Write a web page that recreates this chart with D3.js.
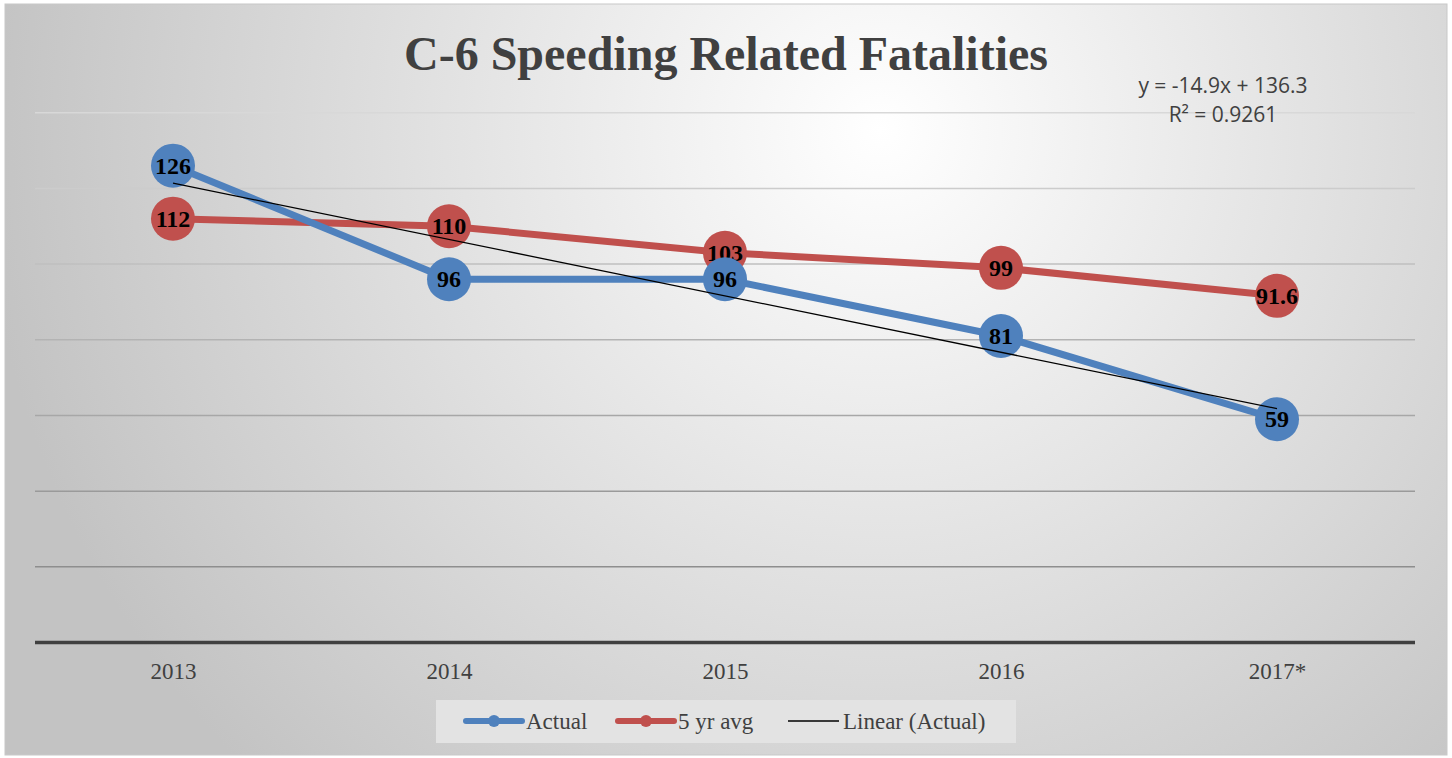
<!DOCTYPE html>
<html>
<head>
<meta charset="utf-8">
<script src="https://cdn.jsdelivr.net/npm/d3@7"></script>
<style>
  body { margin: 0; background: #ffffff; }
  svg { display: block; }
</style>
</head>
<body>
<div class="chart"></div>
<script>
// Data
const years = ["2013", "2014", "2015", "2016", "2017*"]
const actual = [126, 96, 96, 81, 59]
const fiveYrAvg = [112, 110, 103, 99, 91.6]
const gridTicks = [20, 40, 60, 80, 100, 120, 140]
const trendSlope = -14.9
const trendIntercept = 136.3
const trendLabel = ["y = -14.9x + 136.3", "R² = 0.9261"]

const blue = "#4f81bd"
const red = "#c0504d"

const width = 1452
const height = 758

const svg = d3.select('.chart')
    .append('svg')
    .attr('width', width)
    .attr('height', height)

// background gradient
const defs = svg.append('defs')
const bg = defs.append('radialGradient')
    .attr('id', 'bg')
    .attr('gradientUnits', 'userSpaceOnUse')
    .attr('cx', 880).attr('cy', 130).attr('r', 900)
bg.append('stop').attr('offset', '0%').attr('stop-color', '#ffffff')
bg.append('stop').attr('offset', '100%').attr('stop-color', '#c3c3c3')

svg.append('rect')
    .attr('x', 5).attr('y', 4)
    .attr('width', 1442).attr('height', 751)
    .attr('fill', 'url(#bg)')
    .attr('stroke', '#c8c8c8')
    .attr('stroke-width', 1)

// scales
const x = d3.scalePoint()
    .domain(years)
    .range([35, 1415])
    .padding(0.5)

const y = d3.scaleLinear()
    .domain([0, 140])
    .range([642.5, 112.7])

// gridlines get darker towards the bottom
const gridCol = d3.scaleLinear()
    .domain([20, 140])
    .range(['#8e8e8e', '#d8d8d8'])

svg.append('g')
    .selectAll('line')
    .data(gridTicks)
    .enter()
    .append('line')
    .attr('x1', 35)
    .attr('x2', 1415)
    .attr('y1', d => y(d))
    .attr('y2', d => y(d))
    .attr('stroke', d => gridCol(d))
    .attr('stroke-width', 1.5)

// x axis
const xAxis = svg.append('g')
    .attr('transform', 'translate(0,' + y(0) + ')')
    .call(d3.axisBottom(x).tickSize(0).tickPadding(20))
xAxis.select('.domain')
    .attr('d', 'M35,0H1415')
    .attr('stroke', '#404040')
    .attr('stroke-width', 3.5)
xAxis.selectAll('text')
    .attr('font-family', '"Liberation Serif", "Times New Roman", serif')
    .attr('font-size', '23px')
    .attr('fill', '#404040')

// title
svg.append('text')
    .attr('x', 726)
    .attr('y', 70)
    .attr('text-anchor', 'middle')
    .attr('font-family', '"Liberation Serif", "Times New Roman", serif')
    .attr('font-weight', 'bold')
    .attr('font-size', '48px')
    .attr('fill', '#404040')
    .text('C-6 Speeding Related Fatalities')

// trend equation
svg.append('g')
    .selectAll('text')
    .data(trendLabel)
    .enter()
    .append('text')
    .attr('x', 1223)
    .attr('y', (d, i) => 93 + i * 29)
    .attr('text-anchor', 'middle')
    .attr('font-family', '"Open Sans", "Noto Sans", sans-serif')
    .attr('font-size', '21px')
    .attr('fill', '#404040')
    .text(d => d)

const line = d3.line()
    .x((d, i) => x(years[i]))
    .y(d => y(d))

function drawSeries(vals, col) {
    svg.append('path')
        .datum(vals)
        .attr('fill', 'none')
        .attr('stroke', col)
        .attr('stroke-width', 7)
        .attr('stroke-linejoin', 'round')
        .attr('d', line)
}

function drawMarkers(vals, col) {
    const g = svg.append('g')
    g.selectAll('circle')
        .data(vals)
        .enter()
        .append('circle')
        .attr('cx', (d, i) => x(years[i]))
        .attr('cy', d => y(d))
        .attr('r', 22)
        .attr('fill', col)
    g.selectAll('text')
        .data(vals)
        .enter()
        .append('text')
        .attr('x', (d, i) => x(years[i]))
        .attr('y', d => y(d) + 8)
        .attr('text-anchor', 'middle')
        .attr('font-family', '"Liberation Serif", "Times New Roman", serif')
        .attr('font-weight', 'bold')
        .attr('font-size', '24px')
        .attr('fill', '#000000')
        .text(d => d)
}

drawSeries(fiveYrAvg, red)
drawSeries(actual, blue)
drawMarkers(fiveYrAvg, red)
drawMarkers(actual, blue)

// linear trend of actual
const trendVals = [trendIntercept + trendSlope * 1, trendIntercept + trendSlope * years.length]
svg.append('line')
    .attr('x1', x(years[0]))
    .attr('x2', x(years[years.length - 1]))
    .attr('y1', y(trendVals[0]))
    .attr('y2', y(trendVals[1]))
    .attr('stroke', '#000000')
    .attr('stroke-width', 1.3)

// legend
const leg = svg.append('g')
leg.append('rect')
    .attr('x', 436).attr('y', 700)
    .attr('width', 580).attr('height', 43)
    .attr('fill', '#e3e3e3')

const legItems = [
    { name: 'Actual', col: blue, x0: 466, x1: 522, w: 6, marker: true },
    { name: '5 yr avg', col: red, x0: 618, x1: 674, w: 6, marker: true },
    { name: 'Linear (Actual)', col: '#000000', x0: 788, x1: 839, w: 1.3, marker: false }
]
const legY = 721
legItems.forEach(function (it) {
    leg.append('line')
        .attr('x1', it.x0).attr('x2', it.x1)
        .attr('y1', legY).attr('y2', legY)
        .attr('stroke', it.col)
        .attr('stroke-width', it.w)
        .attr('stroke-linecap', it.marker ? 'round' : 'butt')
    if (it.marker) {
        leg.append('circle')
            .attr('cx', (it.x0 + it.x1) / 2)
            .attr('cy', legY)
            .attr('r', 6)
            .attr('fill', it.col)
    }
    leg.append('text')
        .attr('x', it.x1 + 4)
        .attr('y', legY + 8)
        .attr('font-family', '"Liberation Serif", "Times New Roman", serif')
        .attr('font-size', '23px')
        .attr('fill', '#404040')
        .text(it.name)
})
</script>
</body>
</html>
